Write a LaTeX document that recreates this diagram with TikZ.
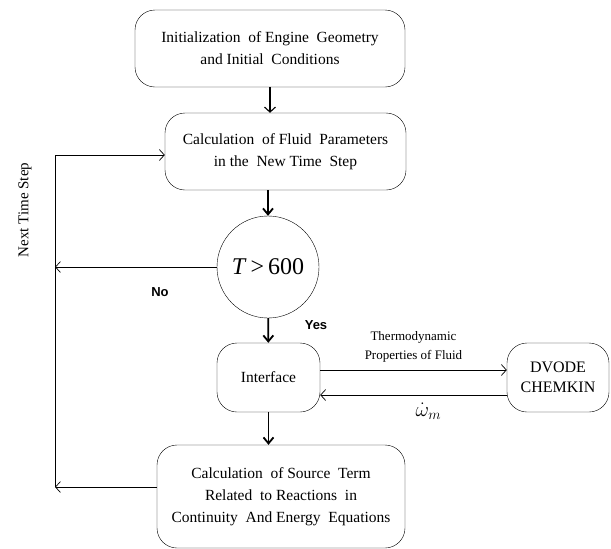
\documentclass[tikz,border=0pt]{standalone}
\usepackage{fontspec}
\setmainfont{Liberation Serif}
\newfontfamily\labelfont{Liberation Sans}
\usetikzlibrary{positioning,arrows.meta}

\begin{document}
\begin{tikzpicture}[x=1pt, y=-1pt,
    block/.style={draw, rounded corners=20pt, align=center, inner sep=2pt,
                  font=\fontsize{15.5}{22}\selectfont},
    thin/.style={-{Straight Barb[length=5pt,width=11pt]}, line width=0.7pt},
    thick/.style={-{Straight Barb[length=6pt,width=10pt]}, line width=1.8pt},
    yesno/.style={font=\labelfont\bfseries\fontsize{13}{15}\selectfont}]
    \useasboundingbox (0,0) rectangle (611,549);
    \node[block, minimum width=270pt, minimum height=77pt] (init) at (270, 48.5)
        {Initialization \ of Engine \ Geometry\\ and Initial \ Conditions};
    \node[block, minimum width=241pt, minimum height=77pt] (fluid) at (285.5, 151.5)
        {Calculation \ of Fluid \ Parameters\\ in the \ New Time \ Step};
    \node[draw, circle, minimum size=102pt, inner sep=0pt, font=\fontsize{24}{26}\selectfont] (test) at (268, 267)
        {{\itshape T\/}\,>\,600};
    \node[block, minimum width=103pt, minimum height=69pt] (iface) at (268.5, 377.5)
        {Interface};
    \node[block, minimum width=102pt, minimum height=69pt, font=\fontsize{16}{20}\selectfont] (dvode) at (558, 377.5)
        {DVODE\\CHEMKIN};
    \node[block, minimum width=248pt, minimum height=103pt] (source) at (281, 496.5)
        {Calculation \ of Source \ Term\\ Related \ to Reactions \ in\\ Continuity \ And Energy \ Equations};
    \coordinate (back-top) at (55, 155);
    \coordinate (back-no) at (55, 267);
    \coordinate (back-bot) at (55, 487);
    % main line
    \draw[thin, line width=1.1pt] (init) -- (fluid.north -| init);
    \draw[thick] (fluid.south -| test) -- (test);
    \draw[thick] (test) -- (iface);
    \draw[thick] (iface) -- (source.north -| iface);
    % exchange with the solver
    \draw[thin] ([yshift=7.5pt]iface.east) -- ([yshift=7.5pt]dvode.west)
        node[midway, above=4pt, font=\fontsize{13}{19}\selectfont, align=center] {Thermodynamic\\Properties of Fluid};
    \draw[thin] ([yshift=-17.5pt]dvode.west) -- ([yshift=-17.5pt]iface.east)
        node[pos=0.42, below=4pt, font=\fontsize{22}{24}\selectfont] {$\dot{\omega}_m$};
    % next time step
    \draw[thin] (test) -- (back-no);
    \draw[thin] (back-bot -| source.west) -- (back-bot);
    \draw[thin] (back-bot) -- (back-top) -- (back-top -| fluid.west);
    \node[rotate=90, font=\fontsize{15}{17}\selectfont] (next) at (25, 210) {Next Time Step};
    \node[yesno] (no) at (160, 292) {No};
    \node[yesno] (yes) at (316, 325) {Yes};
\end{tikzpicture}
\end{document}
